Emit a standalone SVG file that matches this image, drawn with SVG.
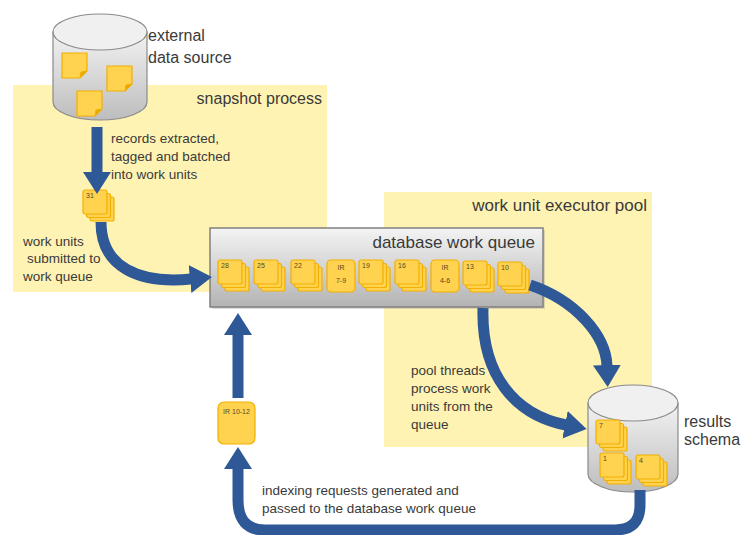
<svg xmlns="http://www.w3.org/2000/svg" xmlns:xlink="http://www.w3.org/1999/xlink" width="741" height="535" viewBox="0 0 741 535">
<style>
.region{fill:#FFF3B3;}
.t{font-family:"Liberation Sans",Arial,sans-serif;fill:#3a3a3a;}
.big{font-size:16px;}
.big2{font-size:17px;}
.sm{font-size:13.5px;}
.num{font-family:"Liberation Sans",Arial,sans-serif;font-size:7px;fill:#5a4a20;}
.card{fill:#FFD24F;stroke:#F2B000;stroke-width:1.2;}
.cyl{fill:url(#cylg);stroke:#8a8a8a;stroke-width:1.2;}
.cyltop{fill:#f0f0f0;stroke:#8a8a8a;stroke-width:1.2;}
.arr{fill:none;stroke:#2E5896;stroke-width:11;}
</style>
<defs>
<linearGradient id="cylg" x1="0" y1="0" x2="0" y2="1">
<stop offset="0" stop-color="#f2f2f2"/>
<stop offset="1" stop-color="#bdbdbd"/>
</linearGradient>
<linearGradient id="qg" x1="0" y1="0" x2="0" y2="1">
<stop offset="0" stop-color="#f4f4f4"/>
<stop offset="1" stop-color="#b3b3b3"/>
</linearGradient>
<marker id="ah" viewBox="0 0 22 28" markerWidth="22" markerHeight="28" refX="1" refY="14" orient="auto" markerUnits="userSpaceOnUse">
<path d="M0,0 L22,14 L0,28 Z" fill="#2E5896"/>
</marker>
<g id="stk">
<rect class="card" x="7" y="7" width="24" height="24" rx="2"/>
<rect class="card" x="3.5" y="3.5" width="24" height="24" rx="2"/>
<rect class="card" x="0" y="0" width="24" height="24" rx="2"/>
</g>
<g id="note">
<path class="card" d="M0,0 H25 V18 L18,25 H0 Z"/>
<path d="M25,18 L19,19 L18,25" fill="#E8A800" stroke="#F2B000" stroke-width="1"/>
</g>
</defs>

<g id="regions">
<rect class="region" x="13" y="85" width="314" height="207"/>
<rect class="region" x="384" y="192" width="268" height="255"/>
</g>

<g id="external-data-source">
<path class="cyl" d="M53,32 V102 A47,18 0 0 0 147,102 V32 Z"/>
<ellipse class="cyltop" cx="100" cy="32" rx="47" ry="18"/>
<use href="#note" x="62" y="53"/>
<use href="#note" x="107" y="66"/>
<use href="#note" x="77" y="91"/>
<text class="t big" x="148" y="41">external</text>
<text class="t big" x="148" y="63">data source</text>
</g>

<g id="snapshot-process-label">
<text class="t big" x="322" y="104" text-anchor="end">snapshot process</text>
<text class="t sm" x="111" y="143">records extracted,</text>
<text class="t sm" x="111" y="161">tagged and batched</text>
<text class="t sm" x="111" y="179">into work units</text>
<text class="t sm" x="23" y="246">work units</text>
<text class="t sm" x="27" y="263">submitted to</text>
<text class="t sm" x="23" y="281">work queue</text>
</g>

<g id="executor-pool-label">
<text class="t big2" x="647" y="211" text-anchor="end">work unit executor pool</text>
<text class="t sm" x="411" y="375">pool threads</text>
<text class="t sm" x="411" y="393">process work</text>
<text class="t sm" x="411" y="411">units from the</text>
<text class="t sm" x="411" y="429">queue</text>
</g>

<g id="card-31">
<use href="#stk" x="83" y="190"/>
<text class="num" x="86" y="198">31</text>
</g>

<g id="database-work-queue">
<rect x="212" y="230" width="333" height="79" fill="#999" opacity="0.35"/>
<rect x="210" y="228" width="333" height="79" fill="url(#qg)" stroke="#808080" stroke-width="1.5"/>
<text class="t big2" x="535" y="248" text-anchor="end">database work queue</text>
<g id="card-28"><use href="#stk" x="218" y="260"/><text class="num" x="221" y="268">28</text></g>
<g id="card-25"><use href="#stk" x="254" y="260"/><text class="num" x="257" y="268">25</text></g>
<g id="card-22"><use href="#stk" x="291" y="260"/><text class="num" x="294" y="268">22</text></g>
<g id="card-ir-7-9"><rect class="card" x="327" y="260" width="28" height="32" rx="4"/><text class="num" x="341" y="270" text-anchor="middle" fill="#8a4a2a">IR</text><text class="num" x="341" y="283" text-anchor="middle">7-9</text></g>
<g id="card-19"><use href="#stk" x="359" y="260"/><text class="num" x="362" y="268">19</text></g>
<g id="card-16"><use href="#stk" x="395" y="260"/><text class="num" x="398" y="268">16</text></g>
<g id="card-ir-4-6"><rect class="card" x="431" y="260" width="28" height="32" rx="4"/><text class="num" x="445" y="270" text-anchor="middle" fill="#8a4a2a">IR</text><text class="num" x="445" y="283" text-anchor="middle">4-6</text></g>
<g id="card-13"><use href="#stk" x="463" y="261"/><text class="num" x="466" y="269">13</text></g>
<g id="card-10"><use href="#stk" x="498" y="262"/><text class="num" x="501" y="270">10</text></g>
</g>

<g id="results-schema">
<path class="cyl" d="M588,403 V474 A45,18 0 0 0 678,474 V403 Z"/>
<ellipse class="cyltop" cx="633" cy="403" rx="45" ry="18"/>
<g id="card-7"><use href="#stk" x="596" y="420"/><text class="num" x="599" y="428">7</text></g>
<g id="card-1"><use href="#stk" x="600" y="453"/><text class="num" x="603" y="461">1</text></g>
<g id="card-4"><use href="#stk" x="636" y="455"/><text class="num" x="639" y="463">4</text></g>
<text class="t big" x="684" y="427">results</text>
<text class="t big" x="684" y="445">schema</text>
</g>

<g id="card-ir-10-12">
<rect class="card" x="218" y="402" width="37" height="42" rx="6"/>
<text class="num" x="236.5" y="414" text-anchor="middle">IR 10-12</text>
</g>

<g id="indexing-label">
<text class="t sm" x="262" y="495">indexing requests generated and</text>
<text class="t sm" x="262" y="513">passed to the database work queue</text>
</g>

<g id="connectors">
<path class="arr" d="M97,127 V173" marker-end="url(#ah)"/>
<path class="arr" d="M101,222 C101,268 140,284 191,279" marker-end="url(#ah)"/>
<path class="arr" d="M530,285 C575,300 606,335 607,366" marker-end="url(#ah)"/>
<path class="arr" d="M483,308 C481,375 515,415 566,425" marker-end="url(#ah)"/>
<path class="arr" d="M640,490 V505 Q640,530 615,530 H265 Q238,530 238,500 V468" marker-end="url(#ah)"/>
<path class="arr" d="M238,398 V334" marker-end="url(#ah)"/>
</g>
</svg>
